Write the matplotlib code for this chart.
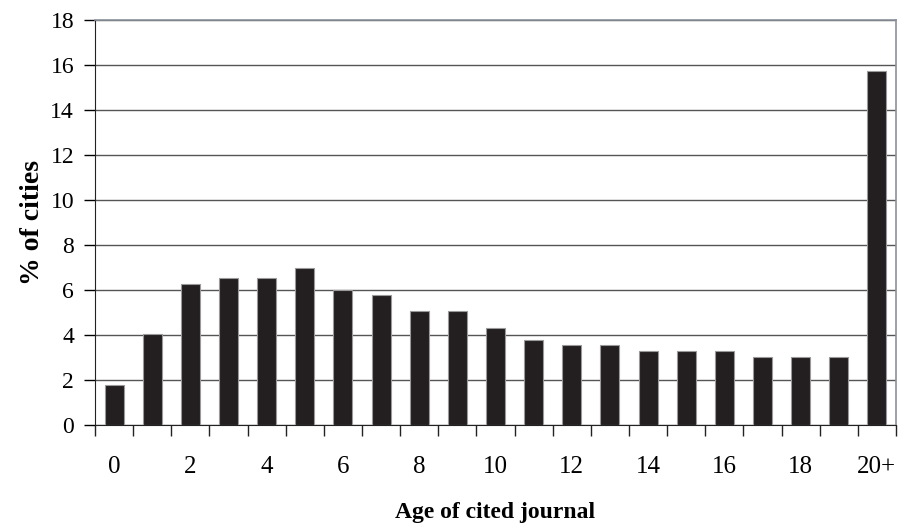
import matplotlib
matplotlib.use('Agg')
from matplotlib import pyplot as plt
import numpy as np

categories = [str(i) for i in range(20)] + ['20+']
values = [1.8, 4.03, 6.27, 6.55, 6.55, 7.0, 6.0, 5.8, 5.06, 5.06, 4.31,
          3.76, 3.57, 3.57, 3.3, 3.3, 3.3, 3.01, 3.01, 3.01, 15.75]
tick_labels = ['0', '2', '4', '6', '8', '10', '12', '14', '16', '18', '20+']
y_ticks = [0, 2, 4, 6, 8, 10, 12, 14, 16, 18]

plt.rcParams['font.family'] = ['Liberation Serif', 'DejaVu Serif']

fig = plt.figure(figsize=(9.06, 5.27), dpi=100)
ax = fig.add_axes([95 / 906, 1 - 425 / 527, (896 - 95) / 906, (425 - 20) / 527])

x = np.arange(len(categories))
ax.bar(x, values, width=0.5, color='#231f20', edgecolor='#9a9a9a', linewidth=0.8, zorder=3)

ax.set_xlim(-0.5, len(categories) - 0.5)
ax.set_ylim(0, 18)
ax.set_yticks(y_ticks)
ax.yaxis.grid(True, color='#555555', linewidth=1.0, zorder=0)

major_pos = [i for i, c in enumerate(categories) if c in tick_labels]
ax.set_xticks(major_pos)
ax.set_xticklabels(tick_labels)
ax.set_xticks(np.arange(-0.5, len(categories), 1.0), minor=True)
ax.tick_params(axis='x', which='major', length=0, pad=22, labelsize=18)
ax.tick_params(axis='x', which='minor', length=8, direction='out', width=1, color='#222222')
ax.tick_params(axis='y', length=8, direction='out', width=1, labelsize=17, pad=7)

for side in ['top', 'right']:
    ax.spines[side].set_color('#8a9199')
    ax.spines[side].set_linewidth(1.2)
ax.spines['left'].set_color('#222222')
ax.spines['bottom'].set_color('#222222')

ax.set_ylabel('% of cities', fontsize=20, fontweight='bold')
ax.yaxis.set_label_coords(-0.062, 0.5)
ax.set_xlabel('Age of cited journal', fontsize=17, fontweight='bold')
ax.xaxis.set_label_coords(0.5, -0.19)

fig.savefig('out.png', dpi=100)
